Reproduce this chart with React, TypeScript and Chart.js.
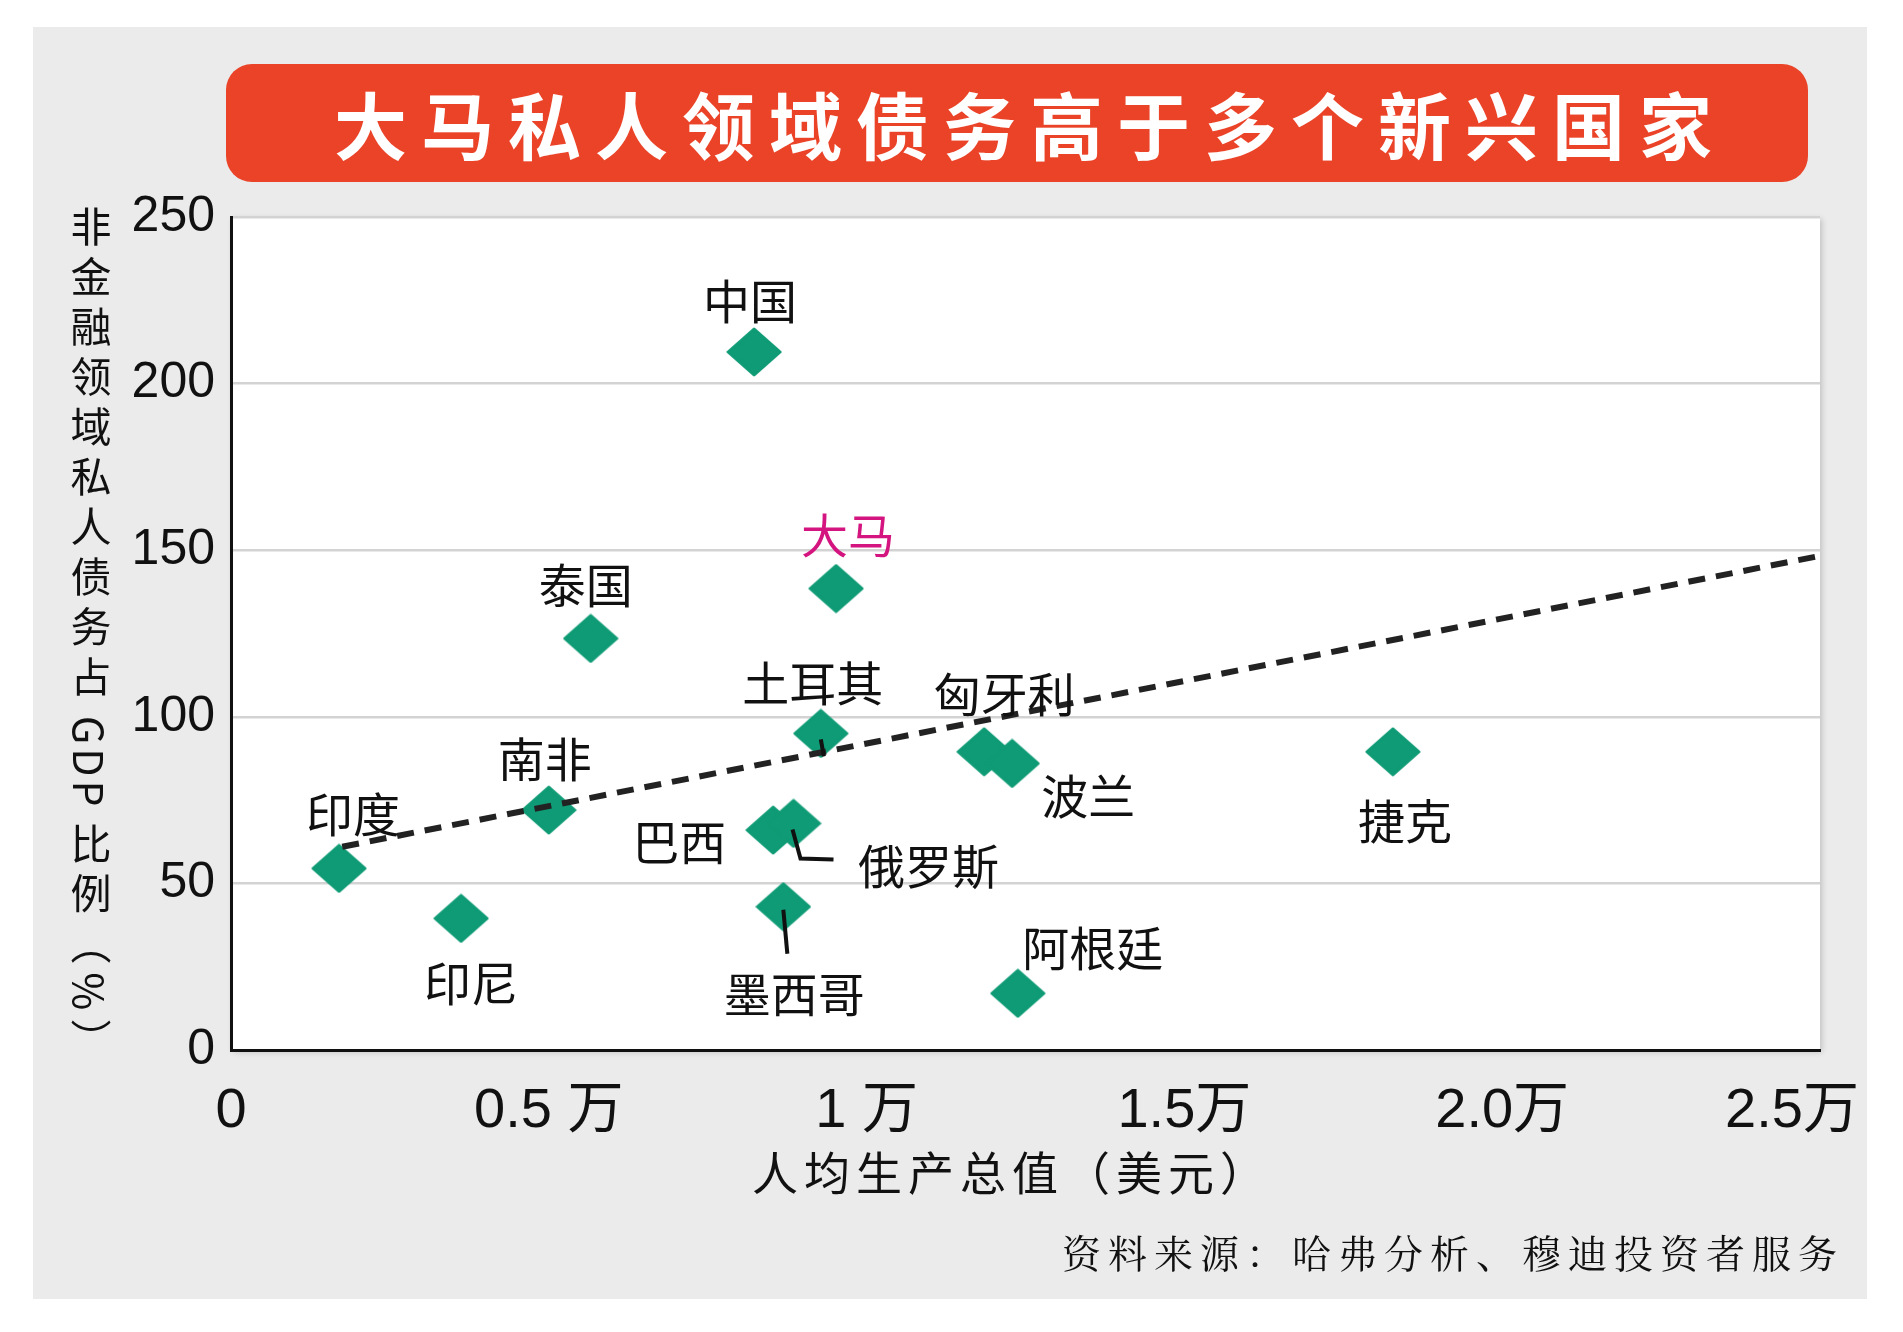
import React, { useEffect, useRef } from "react";
import { Chart, registerables } from "chart.js";

Chart.register(...registerables);

// ---------- data ----------
const countries = ["中国", "大马", "泰国", "土耳其", "匈牙利", "波兰", "捷克", "南非", "印度", "巴西", "俄罗斯", "墨西哥", "印尼", "阿根廷"];
const gdpPerCapita = [8230, 9520, 5660, 9280, 11850, 12290, 18280, 5000, 1700, 8530, 8850, 8690, 3620, 12380];
const privateDebtPct = [209.5, 138.5, 123.5, 95, 89.5, 86, 89.5, 72, 54.5, 66, 68, 43, 39.5, 17];
const trendX = [1750, 25000];
const trendY = [61, 148.3];
const yTickValues = [0, 50, 100, 150, 200, 250];
const xTickValues = [0, 5000, 10000, 15000, 20000, 25000];
const xTickLabels = ["0", "0.5 万", "1 万", "1.5万", "2.0万", "2.5万\u2002\u2002"];

const titleText = "大马私人领域债务高于多个新兴国家";
const yTitle = ["非金融领域私人债务占", "GDP", "比例（%）"];
const xTitle = "人均生产总值（美元）";
const sourceText = "资料来源：哈弗分析、穆迪投资者服务";

// ---------- layout / style (pixel offsets of labels from their points) ----------
const labelOffsets: [number, number][] = [
  [-4, -51], [12, -53], [-5, -53], [-8, -50], [20, -58], [76, 33], [12, 69],
  [-4, -51], [14, -54], [-94, 12], [135, 43], [11, 87], [10, 65], [75, -45],
];
const leaderLines: Record<string, [number, number][]> = {
  "土耳其": [[0, 6], [3, 23]],
  "俄罗斯": [[-1, 6], [7, 35], [40, 36]],
  "墨西哥": [[0, 3], [4, 47]],
};
const highlight = "大马";

const GREEN = "#0f9b75";
const RED = "#ea4328";
const PANEL = "#ebebeb";
const MAGENTA = "#d4147f";
const INK = "#111111";

export default function App() {
  const canvasRef = useRef<HTMLCanvasElement | null>(null);

  useEffect(() => {
    const canvas = canvasRef.current;
    if (!canvas) return;

    const diamond = document.createElement("canvas");
    diamond.width = 56;
    diamond.height = 50;
    const dctx = diamond.getContext("2d")!;
    dctx.fillStyle = GREEN;
    dctx.strokeStyle = GREEN;
    dctx.lineJoin = "round";
    dctx.lineWidth = 3;
    dctx.beginPath();
    dctx.moveTo(28, 2);
    dctx.lineTo(54, 25);
    dctx.lineTo(28, 48);
    dctx.lineTo(2, 25);
    dctx.closePath();
    dctx.fill();
    dctx.stroke();

    const bgPlugin = {
      id: "plotBg",
      beforeDraw(chart: any) {
        const { ctx, chartArea } = chart;
        ctx.save();
        ctx.shadowColor = "rgba(0,0,0,0.18)";
        ctx.shadowBlur = 6;
        ctx.shadowOffsetX = 2;
        ctx.shadowOffsetY = 2;
        ctx.fillStyle = "#ffffff";
        ctx.fillRect(chartArea.left, chartArea.top, chartArea.right - chartArea.left, chartArea.bottom - chartArea.top);
        ctx.restore();
      },
    };

    const labelPlugin = {
      id: "pointLabels",
      afterDatasetsDraw(chart: any) {
        const { ctx } = chart;
        const meta = chart.getDatasetMeta(1);
        ctx.save();
        ctx.strokeStyle = INK;
        ctx.lineWidth = 4;
        ctx.lineCap = "butt";
        ctx.lineJoin = "miter";
        meta.data.forEach((pt: any, i: number) => {
          const lines = leaderLines[countries[i]];
          if (!lines) return;
          ctx.beginPath();
          lines.forEach(([dx, dy], k) => {
            if (k === 0) ctx.moveTo(pt.x + dx, pt.y + dy);
            else ctx.lineTo(pt.x + dx, pt.y + dy);
          });
          ctx.stroke();
        });
        ctx.font = '47px "Noto Sans CJK SC", sans-serif';
        ctx.textAlign = "center";
        ctx.textBaseline = "middle";
        meta.data.forEach((pt: any, i: number) => {
          const [dx, dy] = labelOffsets[i];
          ctx.fillStyle = countries[i] === highlight ? MAGENTA : INK;
          ctx.fillText(countries[i], pt.x + dx, pt.y + dy);
        });
        ctx.restore();
      },
    };

    const chart = new Chart(canvas, {
      type: "scatter",
      data: {
        datasets: [
          {
            type: "line",
            label: "趋势",
            data: trendX.map((x, i) => ({ x, y: trendY[i] })),
            borderColor: "#222222",
            borderWidth: 6,
            borderDash: [17, 11],
            pointRadius: 0,
            fill: false,
            order: 0,
          } as any,
          {
            type: "scatter",
            label: "国家",
            data: gdpPerCapita.map((x, i) => ({ x, y: privateDebtPct[i] })),
            pointStyle: diamond,
            pointRadius: 25,
            pointHoverRadius: 25,
            backgroundColor: GREEN,
            borderColor: GREEN,
            order: 1,
          } as any,
        ],
      },
      options: {
        animation: false,
        responsive: false,
        devicePixelRatio: 1,
        layout: { padding: { left: 0, top: 217, right: 83, bottom: 182 } },
        plugins: { legend: { display: false }, tooltip: { enabled: false }, title: { display: false } },
        scales: {
          x: {
            type: "linear",
            min: 0,
            max: 25000,
            afterFit: (scale: any) => {
              scale.height = 100;
              scale.paddingLeft = 0;
              scale.paddingRight = 0;
            },
            afterBuildTicks: (scale: any) => { scale.ticks = xTickValues.map((v) => ({ value: v })); },
            ticks: {
              autoSkip: false,
              maxRotation: 0,
              padding: 28,
              color: INK,
              font: { family: '"Liberation Sans", "Noto Sans CJK SC", sans-serif', size: 56 },
              callback: (v: any) => xTickLabels[xTickValues.indexOf(Number(v))] ?? "",
            },
            grid: { display: false, drawTicks: false },
            border: { display: true, color: INK, width: 3 },
          },
          y: {
            type: "linear",
            min: 0,
            max: 250,
            afterFit: (scale: any) => {
              scale.width = 231;
              scale.paddingTop = 0;
              scale.paddingBottom = 0;
            },
            afterBuildTicks: (scale: any) => { scale.ticks = yTickValues.map((v) => ({ value: v })); },
            ticks: {
              padding: 16,
              color: INK,
              font: { family: '"Liberation Sans", sans-serif', size: 50 },
            },
            grid: { color: "#d3d3d3", lineWidth: 2.5, drawTicks: false },
            border: { display: true, color: INK, width: 3 },
          },
        },
      },
      plugins: [bgPlugin, labelPlugin],
    });

    return () => chart.destroy();
  }, []);

  return (
    <div style={{ position: "absolute", left: 0, top: 0, width: 1903, height: 1332, background: "#ffffff", overflow: "hidden" }}>
      <div style={{ position: "absolute", left: 33, top: 27, width: 1834, height: 1272, background: PANEL }} />
      <div
        style={{
          position: "absolute", left: 226, top: 64, width: 1582, height: 118, background: RED, borderRadius: 26,
        }}
      >
        <div
          style={{
            position: "absolute", left: 108, top: 0, height: 118, lineHeight: "116px", whiteSpace: "nowrap",
            fontFamily: '"Noto Sans CJK SC", sans-serif', fontWeight: 700, fontSize: 73, letterSpacing: 14, color: "#ffffff",
          }}
        >
          {titleText}
        </div>
      </div>
      <canvas ref={canvasRef} width={1903} height={1332} style={{ position: "absolute", left: 0, top: 0, width: 1903, height: 1332 }} />
      <div
        style={{
          position: "absolute", left: 70, top: 206, writingMode: "vertical-rl", textOrientation: "mixed",
          fontFamily: '"Noto Sans CJK SC", sans-serif', fontSize: 41, letterSpacing: 9, lineHeight: 1, color: INK, whiteSpace: "nowrap",
        }}
      >
        {yTitle[0]}
        <span style={{ marginInlineStart: 10, marginInlineEnd: 12, letterSpacing: 4 }}>{yTitle[1]}</span>
        {yTitle[2]}
      </div>
      <div
        style={{
          position: "absolute", left: 752, top: 1140, height: 60, lineHeight: "60px", whiteSpace: "nowrap",
          fontFamily: '"Noto Sans CJK SC", sans-serif', fontSize: 46, letterSpacing: 6, color: INK,
        }}
      >
        {xTitle}
      </div>
      <div
        style={{
          position: "absolute", left: 1062, top: 1226, height: 50, lineHeight: "50px", whiteSpace: "nowrap",
          fontFamily: '"Noto Serif CJK SC", "Noto Sans CJK SC", serif', fontSize: 39, letterSpacing: 7, color: INK,
        }}
      >
        {sourceText}
      </div>
    </div>
  );
}
